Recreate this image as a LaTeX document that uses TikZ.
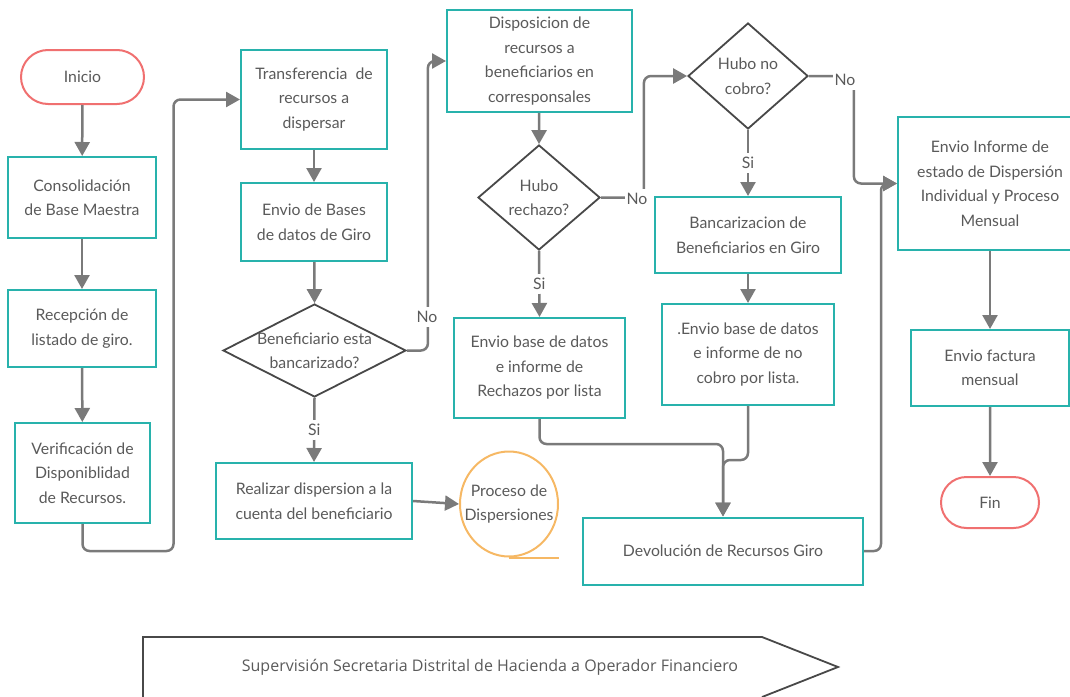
\documentclass[tikz,border=0pt]{standalone}
\usepackage{fontspec}
\setmainfont{Lato}
\newfontfamily\opensans{Open Sans}
\usetikzlibrary{arrows.meta,shapes.geometric,shapes.misc}
\definecolor{tealc}{RGB}{40,178,172}
\definecolor{redc}{RGB}{240,112,112}
\definecolor{orangec}{RGB}{246,184,100}
\definecolor{linec}{RGB}{122,122,122}
\definecolor{darkc}{RGB}{72,72,72}
\definecolor{txtc}{RGB}{90,90,90}
\tikzset{
  txt/.style={align=center, text=txtc, font=\fontsize{15.8}{24.5}\selectfont},
  box/.style={txt, draw=tealc, line width=2pt, fill=white, inner sep=0pt},
  term/.style={txt, rounded rectangle, draw=redc, line width=2pt, fill=white, inner sep=0pt},
  dec/.style={diamond, draw=darkc, line width=1.8pt, fill=white, inner sep=0pt},
  lab/.style={txt, fill=white, inner xsep=2pt, inner ysep=4pt},
  arr/.style={-{Triangle[length=14pt,width=15pt]}, line width=2.5pt, draw=linec, rounded corners=7pt}}

\begin{document}
\begin{tikzpicture}[x=1pt, y=-1pt]
  \useasboundingbox (0,0) rectangle (1070,696);
  % first column
  \node[term, minimum width=123, minimum height=54] (ini) at (82.5,77) {Inicio};
  \node[box, minimum width=148, minimum height=81] (cons) at (82,197.5) {Consolidación\\de Base Maestra};
  \node[box, minimum width=148, minimum height=77] (rec) at (82,328.5) {Recepción de\\listado de giro.};
  \node[box, minimum width=135, minimum height=100] (ver) at (82.5,473) {Verificación de\\Disponiblidad\\de Recursos.};
  % second column
  \node[box, minimum width=146, minimum height=99] (tra) at (314,99.5) {Transferencia\ \ de\\recursos a\\dispersar};
  \node[box, minimum width=146, minimum height=78] (bas) at (314,222) {Envio de Bases\\de datos de Giro};
  \node[dec, minimum width=183, minimum height=93,
        label={[txt]center:Beneficiario esta\\bancarizado?}] (bb) at (314.5,350.5) {};
  \node[box, minimum width=196, minimum height=76] (rea) at (314,501) {Realizar dispersion a la\\cuenta del beneficiario};
  \node[ellipse, draw=orangec, line width=2pt, minimum width=98, minimum height=105,
        label={[txt]center:Proceso de\\Dispersiones}] (pro) at (509,504) {};
  % third column
  \node[box, minimum width=185, minimum height=102] (dis) at (539.5,61) {Disposicion de\\recursos a\\beneficiarios en\\corresponsales};
  \node[dec, minimum width=122, minimum height=105,
        label={[txt]center:Hubo\\rechazo?}] (rech) at (539,197.5) {};
  \node[box, minimum width=171, minimum height=100] (rej) at (539.5,368) {Envio base de datos\\e informe de\\Rechazos por lista};
  % fourth column
  \node[dec, minimum width=120, minimum height=106,
        label={[txt]center:Hubo no\\cobro?}] (nocob) at (748,76) {};
  \node[box, minimum width=186, minimum height=76] (ban) at (748,235) {Bancarizacion de\\Beneficiarios en Giro};
  \node[box, minimum width=172, minimum height=101] (ncl) at (748,354.5) {.Envio base de datos\\e informe de no\\cobro por lista.};
  \node[box, minimum width=280, minimum height=67] (dev) at (723,551) {Devolución de Recursos Giro};
  % last column
  \node[box, minimum width=184, minimum height=133] (inf) at (990,183.5) {Envio Informe de\\estado de Dispersión\\Individual y Proceso\\Mensual};
  \node[box, minimum width=158, minimum height=76] (fac) at (990,368) {Envio factura\\mensual};
  \node[term, minimum width=98, minimum height=51] (fin) at (990,502.5) {Fin};
  % supervision band
  \draw[darkc, line width=1.8pt] (143,697) -- (143,637) -- (762,637) -- (838,667) -- (762,697);
  \node[font=\opensans\fontsize{16}{18}\selectfont, text=darkc!90] (sup) at (490,667)
    {Supervisión Secretaria Distrital de Hacienda a Operador Financiero};

  \draw[arr] (ini) -- (cons);
  \draw[arr] (cons) -- (rec);
  \draw[arr] (rec) -- (ver);
  \draw[arr] (ver.south) -- ++(0,27) -- ++(91,0) |- (tra.west);
  \draw[arr] (tra) -- (bas);
  \draw[arr] (bas) -- (bb.north);
  \draw[arr] (bb.south) -- node[lab, midway] (si1) {Si} (rea.north);
  \draw[arr] (bb.east) -- ++(21,0) |- (dis.west);
  \draw[arr] (rea.east) -- (pro.west);
  \draw[orangec, line width=2pt] (pro.south) -- ++(50,0);
  \draw[arr] (dis) -- (rech.north);
  \draw[arr] (rech.south) -- node[lab, midway] (si2) {Si} (rej.north);
  \draw[arr] (rech.east) -- ++(43,0) |- (nocob.west);
  \draw[arr] (rej.south) -- ++(0,25) -| (dev.north);
  \draw[arr] (ncl.south) -- ++(0,54) -| (dev.north);
  \draw[arr] (nocob.south) -- node[lab, midway] (si3) {Si} (ban.north);
  \draw[arr] (ban) -- (ncl);
  \draw[arr] (nocob.east) -- ++(45,0) |- (inf.west);
  \draw[arr] (dev.east) -- ++(17,0) |- (inf.west);
  \draw[arr] (inf) -- (fac);
  \draw[arr] (fac) -- (fin);
  % branch labels on the corners
  \node[lab] (no1) at (427,317) {No};
  \node[lab] (no2) at (637,199) {No};
  \node[lab] (no3) at (845,80) {No};
\end{tikzpicture}
\end{document}
